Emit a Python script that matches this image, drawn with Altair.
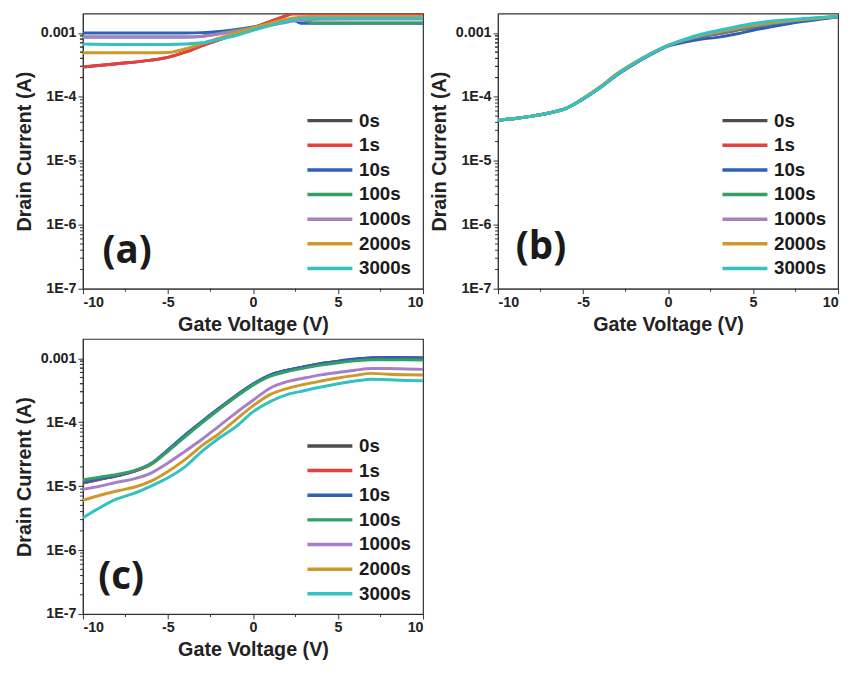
import altair as alt
import pandas as pd

SERIES = ["0s", "1s", "10s", "100s", "1000s", "2000s", "3000s"]
COLORS = ["#4d4d4d", "#e8403f", "#2f5fb8", "#35a066", "#a77fc7", "#cc9a2c", "#33c1c1"]

# ---------- panel (a) ----------
VA = [-10, -8, -6, -5, -4, -3, -2, -1, 0, 1, 2, 2.3, 2.8, 3.5, 4, 6, 8, 10]
A_0s = [2.93e-4, 3.3e-4, 3.75e-4, 4.15e-4, 5.0e-4, 6.3e-4, 7.8e-4, 9.7e-4, 1.2e-3, 1.5e-3, 1.88e-3, 2.0e-3, 2.0e-3, 2.0e-3, 2.0e-3, 2.0e-3, 2.0e-3, 2.0e-3]
A_1s = [2.93e-4, 3.3e-4, 3.75e-4, 4.15e-4, 5.0e-4, 6.3e-4, 7.8e-4, 9.7e-4, 1.2e-3, 1.5e-3, 1.88e-3, 2.0e-3, 2.0e-3, 2.0e-3, 2.0e-3, 2.0e-3, 2.0e-3, 2.0e-3]
A_10s = [1.0e-3, 1.0e-3, 1.0e-3, 1.0e-3, 1.0e-3, 1.01e-3, 1.05e-3, 1.13e-3, 1.24e-3, 1.38e-3, 1.55e-3, 1.62e-3, 1.42e-3, 1.42e-3, 1.42e-3, 1.42e-3, 1.42e-3, 1.42e-3]
A_100s = [8.6e-4, 8.6e-4, 8.6e-4, 8.6e-4, 8.6e-4, 8.9e-4, 9.8e-4, 1.1e-3, 1.22e-3, 1.36e-3, 1.53e-3, 1.6e-3, 1.66e-3, 1.43e-3, 1.43e-3, 1.43e-3, 1.43e-3, 1.43e-3]
A_1000s = [8.6e-4, 8.6e-4, 8.6e-4, 8.6e-4, 8.6e-4, 8.8e-4, 9.6e-4, 1.06e-3, 1.18e-3, 1.32e-3, 1.47e-3, 1.52e-3, 1.58e-3, 1.62e-3, 1.63e-3, 1.65e-3, 1.65e-3, 1.65e-3]
A_2000s = [4.9e-4, 4.9e-4, 4.9e-4, 4.95e-4, 5.6e-4, 6.8e-4, 8.3e-4, 1.0e-3, 1.2e-3, 1.42e-3, 1.65e-3, 1.7e-3, 1.76e-3, 1.8e-3, 1.8e-3, 1.8e-3, 1.8e-3, 1.8e-3]
A_3000s = [6.7e-4, 6.6e-4, 6.6e-4, 6.6e-4, 6.7e-4, 7.0e-4, 7.9e-4, 9.1e-4, 1.1e-3, 1.3e-3, 1.52e-3, 1.58e-3, 1.66e-3, 1.7e-3, 1.7e-3, 1.7e-3, 1.7e-3, 1.7e-3]

# ---------- panel (b) ----------
VB = [-10, -9, -8, -7, -6, -5, -4, -3, -2, -1, 0, 1, 2, 3, 4, 5, 6, 7, 8, 9, 10]
B_0s = [4.3e-5, 4.6e-5, 5.0e-5, 5.6e-5, 6.6e-5, 9.3e-5, 1.4e-4, 2.25e-4, 3.3e-4, 4.7e-4, 6.3e-4, 7.6e-4, 8.8e-4, 9.8e-4, 1.1e-3, 1.22e-3, 1.35e-3, 1.47e-3, 1.58e-3, 1.68e-3, 1.8e-3]
B_1s = [4.3e-5, 4.6e-5, 5.0e-5, 5.6e-5, 6.6e-5, 9.3e-5, 1.4e-4, 2.25e-4, 3.3e-4, 4.7e-4, 6.3e-4, 7.6e-4, 8.8e-4, 9.8e-4, 1.1e-3, 1.22e-3, 1.35e-3, 1.47e-3, 1.58e-3, 1.68e-3, 1.8e-3]
B_10s = [4.3e-5, 4.6e-5, 5.0e-5, 5.6e-5, 6.6e-5, 9.2e-5, 1.38e-4, 2.2e-4, 3.25e-4, 4.6e-4, 6.2e-4, 7.2e-4, 8.0e-4, 8.6e-4, 9.6e-4, 1.1e-3, 1.23e-3, 1.38e-3, 1.52e-3, 1.65e-3, 1.78e-3]
B_100s = [4.3e-5, 4.6e-5, 5.0e-5, 5.6e-5, 6.6e-5, 9.3e-5, 1.4e-4, 2.25e-4, 3.3e-4, 4.7e-4, 6.3e-4, 7.7e-4, 8.9e-4, 1.0e-3, 1.12e-3, 1.25e-3, 1.37e-3, 1.49e-3, 1.6e-3, 1.7e-3, 1.8e-3]
B_1000s = [4.3e-5, 4.6e-5, 5.0e-5, 5.6e-5, 6.6e-5, 9.3e-5, 1.4e-4, 2.25e-4, 3.3e-4, 4.7e-4, 6.3e-4, 7.8e-4, 9.2e-4, 1.04e-3, 1.17e-3, 1.3e-3, 1.42e-3, 1.53e-3, 1.63e-3, 1.72e-3, 1.8e-3]
B_2000s = [4.3e-5, 4.6e-5, 5.0e-5, 5.6e-5, 6.6e-5, 9.5e-5, 1.44e-4, 2.32e-4, 3.4e-4, 4.8e-4, 6.4e-4, 7.9e-4, 9.4e-4, 1.07e-3, 1.2e-3, 1.33e-3, 1.45e-3, 1.55e-3, 1.64e-3, 1.73e-3, 1.81e-3]
B_3000s = [4.3e-5, 4.6e-5, 5.0e-5, 5.6e-5, 6.6e-5, 9.3e-5, 1.4e-4, 2.25e-4, 3.35e-4, 4.75e-4, 6.4e-4, 8.0e-4, 9.6e-4, 1.1e-3, 1.25e-3, 1.4e-3, 1.52e-3, 1.6e-3, 1.68e-3, 1.75e-3, 1.82e-3]

# ---------- panel (c) ----------
VC = [-10, -9, -8, -7, -6, -5, -4, -3, -2, -1, 0, 1, 2, 3, 4, 5, 6, 7, 8, 9, 10]
C_0s = [1.12e-5, 1.28e-5, 1.45e-5, 1.7e-5, 2.2e-5, 3.6e-5, 6.1e-5, 1.0e-4, 1.62e-4, 2.57e-4, 3.9e-4, 5.4e-4, 6.45e-4, 7.3e-4, 8.2e-4, 8.9e-4, 9.6e-4, 1.0e-3, 1.02e-3, 1.01e-3, 1.0e-3]
C_1s = [1.12e-5, 1.28e-5, 1.45e-5, 1.7e-5, 2.2e-5, 3.6e-5, 6.1e-5, 1.0e-4, 1.62e-4, 2.57e-4, 3.9e-4, 5.4e-4, 6.45e-4, 7.3e-4, 8.2e-4, 8.9e-4, 9.6e-4, 1.01e-3, 1.03e-3, 1.02e-3, 1.01e-3]
C_10s = [1.15e-5, 1.3e-5, 1.47e-5, 1.72e-5, 2.25e-5, 3.7e-5, 6.3e-5, 1.03e-4, 1.65e-4, 2.6e-4, 3.95e-4, 5.45e-4, 6.5e-4, 7.35e-4, 8.25e-4, 9.0e-4, 9.7e-4, 1.02e-3, 1.03e-3, 1.02e-3, 1.01e-3]
C_100s = [1.25e-5, 1.38e-5, 1.52e-5, 1.75e-5, 2.2e-5, 3.5e-5, 5.9e-5, 9.8e-5, 1.58e-4, 2.5e-4, 3.8e-4, 5.2e-4, 6.2e-4, 7.0e-4, 7.8e-4, 8.5e-4, 9.1e-4, 9.5e-4, 9.5e-4, 9.45e-4, 9.4e-4]
C_1000s = [8.9e-6, 1.0e-5, 1.15e-5, 1.3e-5, 1.6e-5, 2.3e-5, 3.5e-5, 5.4e-5, 8.7e-5, 1.4e-4, 2.2e-4, 3.4e-4, 4.3e-4, 4.9e-4, 5.5e-4, 6.0e-4, 6.5e-4, 6.9e-4, 6.9e-4, 6.8e-4, 6.7e-4]
C_2000s = [6.0e-6, 7.2e-6, 8.4e-6, 9.6e-6, 1.2e-5, 1.7e-5, 2.6e-5, 4.3e-5, 6.6e-5, 1.1e-4, 1.8e-4, 2.7e-4, 3.35e-4, 3.9e-4, 4.4e-4, 4.9e-4, 5.4e-4, 5.8e-4, 5.6e-4, 5.5e-4, 5.45e-4]
C_3000s = [3.2e-6, 4.6e-6, 6.3e-6, 7.7e-6, 1.0e-5, 1.35e-5, 2.0e-5, 3.5e-5, 5.6e-5, 8.5e-5, 1.45e-4, 2.1e-4, 2.7e-4, 3.1e-4, 3.55e-4, 4.0e-4, 4.4e-4, 4.7e-4, 4.6e-4, 4.5e-4, 4.45e-4]

X_TICKS = [-10, -5, 0, 5, 10]
X_MINOR = [-7.5, -2.5, 2.5, 7.5]
Y_TICKS = [1e-7, 1e-6, 1e-5, 1e-4, 1e-3]
Y_MINOR = [m * 10.0 ** e for e in range(-7, -3) for m in range(2, 10)] + [2e-4, 3e-4, 4e-4, 5e-4, 6e-4, 7e-4, 8e-4, 9e-4]
Y_DOMAIN = [1e-7, 2e-3]

PANEL_LABELS = ["(a)", "(b)", "(c)"]
LABEL_V = [-8.85, -8.95, -9.1]
LABEL_I = [3.8e-7, 4.4e-7, 3.8e-7]

FONT = "Liberation Sans"
W, H = 345, 279
AXC = "#333333"

X_AXIS = alt.Axis(values=X_TICKS, title="Gate Voltage (V)", labelExpr="'' + datum.value",
                  tickSize=5, grid=False, labelPadding=2, titlePadding=6)
Y_AXIS = alt.Axis(values=Y_TICKS, title="Drain Current (A)", grid=False,
                  labelExpr="datum.value > 0.0005 ? '0.001' : '1E-' + round(-log(datum.value)/LN10)",
                  tickSize=5, labelPadding=2, titlePadding=6)


def frame(v, series_lists):
    rows = []
    for name, vals in zip(SERIES, series_lists):
        for x, y in zip(v, vals):
            rows.append({"V": x, "I": y, "series": name})
    return pd.DataFrame(rows)


def panel(df, idx):
    xscale = alt.Scale(domain=[-10, 10], nice=False, zero=False)
    yscale = alt.Scale(type="log", domain=Y_DOMAIN, nice=False)
    lines = alt.Chart(df).mark_line(strokeWidth=3, clip=True, interpolate="monotone").encode(
        x=alt.X("V:Q", scale=xscale, axis=X_AXIS),
        y=alt.Y("I:Q", scale=yscale, axis=Y_AXIS),
        color=alt.Color("series:N", scale=alt.Scale(domain=SERIES, range=COLORS),
                        sort=SERIES,
                        legend=alt.Legend(title=None, orient="none", legendX=239, legendY=97,
                                          symbolType="M-2.4,0H2.4", symbolSize=361,
                                          symbolStrokeWidth=3.5, labelFontSize=19,
                                          labelFont=FONT, labelFontWeight="bold",
                                          labelColor="#1a1a1a", labelOffset=18,
                                          rowPadding=3, padding=0)),
    )
    ymin = alt.Chart(pd.DataFrame({"m": Y_MINOR})).mark_rule(color=AXC, strokeWidth=1).encode(
        y=alt.Y("m:Q", scale=yscale, axis=Y_AXIS, title="Drain Current (A)"),
        x=alt.value(0), x2=alt.value(-3),
    )
    xmin = alt.Chart(pd.DataFrame({"m": X_MINOR})).mark_rule(color=AXC, strokeWidth=1).encode(
        x=alt.X("m:Q", scale=xscale, axis=X_AXIS, title="Gate Voltage (V)"),
        y=alt.value(H), y2=alt.value(H + 3),
    )
    lab_df = pd.DataFrame({"V": [LABEL_V[idx]], "I": [LABEL_I[idx]], "t": [PANEL_LABELS[idx]]})
    label = alt.Chart(lab_df).mark_text(font="Open Sans", fontWeight="bold", fontSize=39,
                                         align="left", baseline="middle", color="#1a1a1a").encode(
        x=alt.X("V:Q", scale=xscale, axis=X_AXIS, title="Gate Voltage (V)"),
        y=alt.Y("I:Q", scale=yscale, axis=Y_AXIS, title="Drain Current (A)"),
        text="t:N",
    )
    return alt.layer(lines, ymin, xmin, label).properties(width=W, height=H)


pa = panel(frame(VA, [A_0s, A_1s, A_10s, A_100s, A_1000s, A_2000s, A_3000s]), 0)
pb = panel(frame(VB, [B_0s, B_1s, B_10s, B_100s, B_1000s, B_2000s, B_3000s]), 1)
pc = panel(frame(VC, [C_0s, C_1s, C_10s, C_100s, C_1000s, C_2000s, C_3000s]), 2)

top = alt.hconcat(pa, pb, spacing=4).resolve_legend(color="independent")
chart = alt.vconcat(top, pc, spacing=2).resolve_legend(color="independent").properties(
    padding={"left": 6, "top": 0, "right": 5, "bottom": 2}, background="white"
).configure_view(stroke=AXC, strokeWidth=1.2).configure_axis(
    labelFont=FONT, labelFontWeight="bold", labelFontSize=14.5, labelColor="#222222",
    titleFont=FONT, titleFontWeight="bold", titleFontSize=20, titleColor="#222222",
    domainColor=AXC, tickColor=AXC, grid=False,
)

chart.save("out.html", embed_options={"renderer": "svg", "actions": False})
